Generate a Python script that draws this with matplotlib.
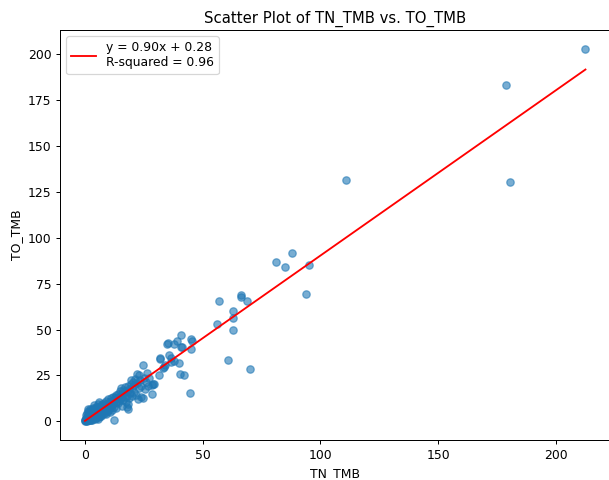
import numpy as np
import matplotlib
matplotlib.use("Agg")
import matplotlib.pyplot as plt

# TMB values (x = TN_TMB, y = TO_TMB)
tn_tmb = [
    0.0, 0.1, 0.2, 0.3, 0.4, 0.5, 0.6, 0.7, 0.8, 0.9, 1.0, 1.1, 1.2, 1.3, 1.4,
    1.5, 1.6, 1.7, 1.8, 1.9, 2.0, 2.1, 2.2, 2.3, 2.4, 2.5, 2.6, 2.7, 2.8, 2.9,
    3.0, 3.1, 3.2, 3.3, 3.4, 3.5, 3.6, 3.7, 3.8, 3.9, 4.0, 4.1, 4.2, 4.3, 4.4,
    4.5, 4.6, 4.7, 4.8, 4.9, 5.0, 5.1, 5.2, 5.3, 5.4, 5.5, 5.6, 5.8, 5.9, 6.0,
    6.1, 6.2, 6.3, 6.5, 6.6, 6.8,
    7.0, 7.1, 7.2, 7.4, 7.5, 7.7, 7.8, 8.0, 8.1, 8.3, 8.4, 8.6, 8.8, 9.0, 9.1,
    9.3, 9.5, 9.6, 9.8, 10.0, 10.2, 10.4, 10.6, 10.8, 11.0, 11.2, 11.4, 11.6,
    11.8, 12.0, 12.2, 12.3, 12.5, 12.7,
    13.0, 13.2, 13.4, 13.6, 13.9, 14.1, 14.3, 14.6, 14.8, 15.1, 15.3, 15.6,
    15.8, 16.0, 16.3, 16.5, 16.8, 17.0, 17.3, 17.5, 17.8, 18.0, 18.2, 18.4,
    18.4, 18.6, 18.9, 19.1, 19.4, 19.6, 19.8, 20.1,
    20.4, 20.7, 21.0, 21.3, 21.6, 22.0, 22.2, 22.6, 22.8, 23.0, 23.3, 23.6,
    24.0, 24.5, 24.6, 24.9, 25.3, 25.8, 26.3, 26.8, 27.4, 28.4, 28.6, 29.0, 29.2,
    31.6, 31.7, 32.0, 33.1, 33.5, 33.8, 34.9, 35.2, 35.9, 36.4, 36.6, 37.9,
    38.0, 39.1, 40.0, 40.2, 40.6, 40.8, 41.2, 42.2, 44.5, 45.0, 45.2, 45.5,
    56.0, 57.1, 60.7, 62.7, 62.8, 63.0, 66.1, 66.4, 68.7, 70.1, 81.3, 85.0,
    88.0, 93.7, 95.0,
    111.0, 179.0, 180.5, 212.6,
]
to_tmb = [
    0.0, 0.5, 1.0, 0.2, 2.0, 3.5, 0.8, 1.5, 4.5, 0.3, 2.5, 5.5, 1.2, 0.6, 3.0,
    6.5, 1.8, 0.9, 4.0, 2.2, 7.0, 1.0, 3.3, 5.0, 0.5, 2.8, 6.0, 1.5, 4.2, 3.6,
    0.8, 5.8, 2.4, 7.5, 4.5, 1.6, 3.2, 6.6, 8.9, 2.0, 5.0, 1.2, 3.8, 7.0, 2.6,
    4.8, 6.1, 1.9, 3.4, 8.0, 5.5, 2.8, 4.1, 6.8, 1.5, 9.5, 3.6, 5.2, 10.7, 2.3,
    7.2, 4.4, 6.0, 3.1, 8.4, 5.6,
    2.8, 7.8, 4.9, 9.6, 6.3, 3.9, 8.1, 5.4, 10.2, 7.0, 4.3, 8.8, 6.2, 11.0, 3.8,
    7.9, 9.4, 5.6, 12.0, 8.2, 6.8, 10.5, 4.9, 9.1, 12.8, 7.6, 10.9, 6.1,
    13.5, 9.5, 11.8, 0.7, 8.0, 13.0,
    10.4, 14.2, 7.2, 12.1, 15.0, 9.8, 13.3, 11.2, 16.3, 18.0, 12.7, 8.5,
    14.8, 17.2, 11.5, 15.9, 13.4, 18.6, 10.3, 16.4, 14.0, 8.0, 19.2, 9.6,
    6.9, 12.8, 17.5, 15.2, 22.5, 20.3, 13.9, 18.4,
    21.4, 16.2, 19.6, 23.0, 14.5, 20.8, 25.7, 12.4, 18.0, 25.1, 22.3, 13.4,
    19.0, 12.8, 30.7, 23.6, 17.4, 21.2, 26.4, 19.5, 23.8, 14.8, 19.8, 20.2, 20.5,
    25.1, 33.9, 34.3, 28.8, 29.4, 30.6, 42.4, 42.5, 36.1, 34.6, 32.5, 42.2,
    32.9, 43.6, 31.6, 26.0, 47.0, 40.6, 40.5, 25.1, 15.5, 39.2, 45.0, 43.6,
    52.8, 65.4, 33.3, 49.9, 56.3, 59.9, 68.7, 68.0, 65.4, 28.6, 87.0, 83.8,
    91.6, 69.4, 85.2,
    131.5, 183.2, 130.5, 203.0,
]

# fit parameters as printed in the legend
slope = 0.90
intercept = 0.28
r_squared = 0.96

# the reference looks rendered a bit smaller than 100 dpi
DPI = 89
fig = plt.figure(figsize=(609 / DPI, 480 / DPI), dpi=DPI)
ax = fig.add_axes([60 / 609, 40 / 480, 550.4 / 609, 410 / 480])

ax.scatter(tn_tmb, to_tmb, alpha=0.6)

x_line = np.sort(np.array(tn_tmb))
ax.plot(x_line, slope * x_line + intercept, color='red',
        label=f'y = {slope:.2f}x + {intercept:.2f}\nR-squared = {r_squared:.2f}')

ax.set_xlim(-10.6, 223.2)
ax.set_ylim(-10.15, 213.15)

ax.set_title('Scatter Plot of TN_TMB vs. TO_TMB')
ax.set_xlabel('TN_TMB')
ax.set_ylabel('TO_TMB')
ax.legend(loc='upper left')

plt.savefig('out.png', dpi=DPI)
